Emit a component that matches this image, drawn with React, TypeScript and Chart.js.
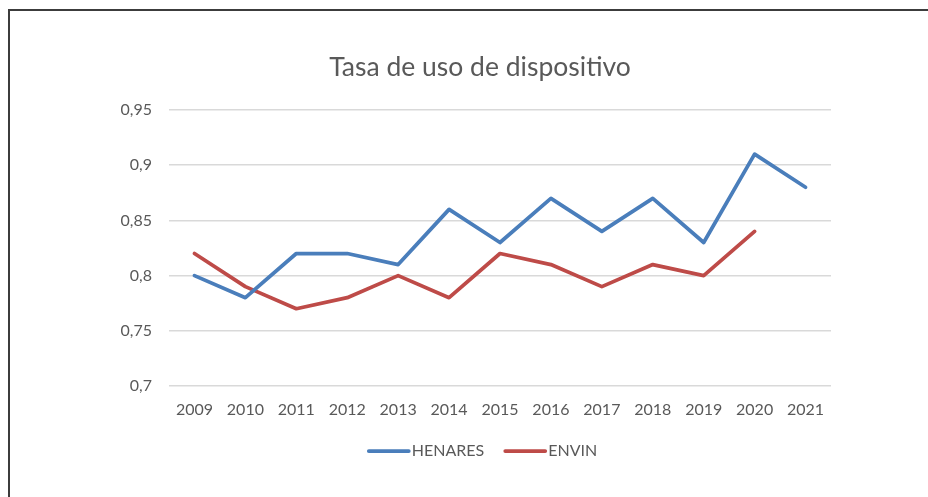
import React, { useEffect, useRef } from "react";
import { Chart, registerables } from "chart.js";

Chart.register(...registerables);

const TITLE = "Tasa de uso de dispositivo";
const YEARS = ["2009", "2010", "2011", "2012", "2013", "2014", "2015", "2016", "2017", "2018", "2019", "2020", "2021"];
const HENARES = [0.8, 0.78, 0.82, 0.82, 0.81, 0.86, 0.83, 0.87, 0.84, 0.87, 0.83, 0.91, 0.88];
const ENVIN = [0.82, 0.79, 0.77, 0.78, 0.8, 0.78, 0.82, 0.81, 0.79, 0.81, 0.8, 0.84, null];
const Y_MIN = 0.7;
const Y_MAX = 0.95;
const Y_STEP = 0.05;

const BLUE = "#4A7EBB";
const RED = "#BE4B48";
const TEXT = "#595959";
const FONT = "Lato, 'Open Sans', sans-serif";

const titleShift = {
  id: "titleShift",
  afterLayout(chart: any) {
    const t = chart.titleBlock;
    if (t) {
      t.left += 7;
      t.right += 7;
    }
  },
};

const bottomLegend = {
  id: "bottomLegend",
  afterDraw(chart: any) {
    const ctx = chart.ctx as CanvasRenderingContext2D;
    const lineLen = 44;
    const gapText = 1;
    const gapItem = 19;
    const centerX = 482;
    const y = 451;
    ctx.save();
    ctx.font = `16px ${FONT}`;
    const items = chart.data.datasets.map((d: any) => ({
      label: d.label as string,
      color: d.borderColor as string,
      w: ctx.measureText(d.label).width,
    }));
    let total = 0;
    items.forEach((it: any, i: number) => {
      total += lineLen + gapText + it.w + (i < items.length - 1 ? gapItem : 0);
    });
    let x = centerX - total / 2;
    items.forEach((it: any) => {
      ctx.strokeStyle = it.color;
      ctx.lineWidth = 3.75;
      ctx.lineCap = "round";
      ctx.beginPath();
      ctx.moveTo(x + 2, y);
      ctx.lineTo(x + lineLen - 2, y);
      ctx.stroke();
      x += lineLen + gapText;
      ctx.fillStyle = TEXT;
      ctx.textBaseline = "middle";
      ctx.textAlign = "left";
      ctx.fillText(it.label, x, y);
      x += it.w + gapItem;
    });
    ctx.restore();
  },
};

export default function App() {
  const ref = useRef<HTMLCanvasElement | null>(null);

  useEffect(() => {
    document.body.style.margin = "0";
    const canvas = ref.current;
    if (!canvas) return;
    const chart = new Chart(canvas, {
      type: "line",
      data: {
        labels: YEARS,
        datasets: [
          {
            label: "HENARES",
            data: HENARES,
            borderColor: BLUE,
            backgroundColor: BLUE,
            borderWidth: 3.75,
            pointRadius: 0,
            tension: 0,
            borderJoinStyle: "round",
            borderCapStyle: "round",
          },
          {
            label: "ENVIN",
            data: ENVIN,
            borderColor: RED,
            backgroundColor: RED,
            borderWidth: 3.75,
            pointRadius: 0,
            tension: 0,
            borderJoinStyle: "round",
            borderCapStyle: "round",
          },
        ],
      },
      plugins: [titleShift, bottomLegend],
      options: {
        responsive: false,
        animation: false,
        layout: { padding: { top: 0, left: 115, right: 97, bottom: 63 } },
        plugins: {
          tooltip: { enabled: false },
          legend: { display: false },
          title: {
            display: true,
            text: TITLE,
            color: TEXT,
            font: { family: FONT, size: 26.5, weight: "normal" },
            padding: { top: 52, bottom: 26.2 },
          },
        },
        scales: {
          x: {
            offset: true,
            grid: { display: false, drawTicks: false },
            border: { display: false },
            ticks: {
              color: TEXT,
              font: { family: FONT, size: 16 },
              padding: 14.4,
              maxRotation: 0,
              autoSkip: false,
            },
            afterFit: (s: any) => {
              s.height = 48;
            },
          },
          y: {
            min: Y_MIN,
            max: Y_MAX,
            grid: { color: "#D9D9D9", lineWidth: 1.5, drawTicks: false },
            border: { display: false },
            ticks: {
              stepSize: Y_STEP,
              color: TEXT,
              font: { family: FONT, size: 16 },
              padding: 17,
              callback: (v: any) => {
                const n = Math.round(Number(v) * 100) / 100;
                return String(n).replace(".", ",");
              },
            },
            afterFit: (s: any) => {
              s.width = 54;
            },
          },
        },
      },
    });
    return () => chart.destroy();
  }, []);

  return (
    <div style={{ position: "absolute", left: 0, top: 0, width: 928, height: 497, background: "#fff", overflow: "hidden" }}>
      <div
        style={{
          position: "absolute",
          left: 8,
          top: 9,
          width: 940,
          height: 520,
          borderLeft: "2px solid #3C3C3C",
          borderTop: "2px solid #3C3C3C",
        }}
      />
      <canvas ref={ref} width={928} height={497} style={{ position: "absolute", left: 0, top: 0 }} />
    </div>
  );
}
